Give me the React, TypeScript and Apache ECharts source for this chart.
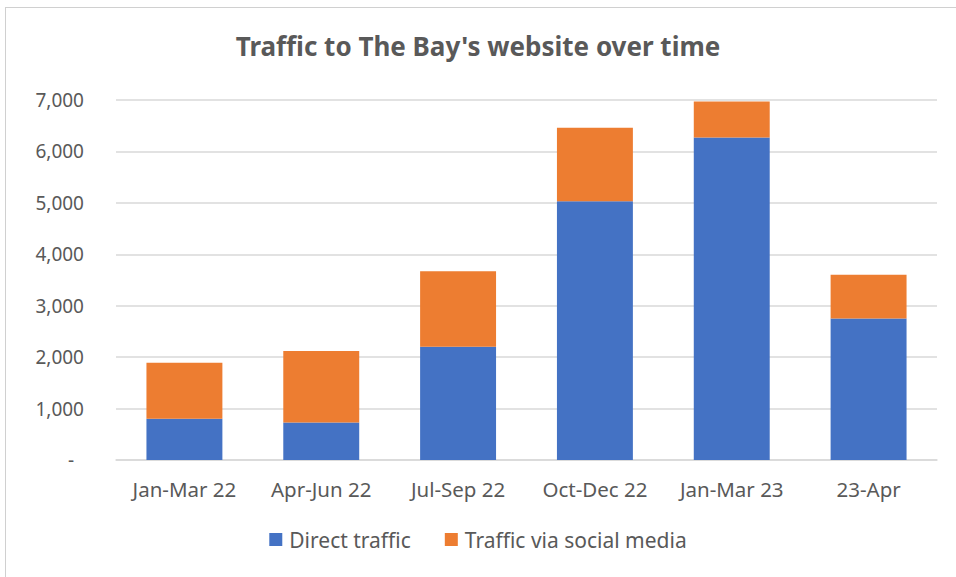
import React, { useEffect, useRef } from "react";
import * as echarts from "echarts";

const categories = ["Jan-Mar 22", "Apr-Jun 22", "Jul-Sep 22", "Oct-Dec 22", "Jan-Mar 23", "23-Apr"];
const directTraffic = [800, 730, 2200, 5030, 6270, 2750];
const socialTraffic = [1090, 1390, 1470, 1430, 700, 850];
const seriesNames = ["Direct traffic", "Traffic via social media"];
const titleText = "Traffic to The Bay's website over time";

const FONT = "'Noto Sans', 'Open Sans', sans-serif";
const TEXT = "#595959";

export default function App() {
  const ref = useRef<HTMLDivElement>(null);
  useEffect(() => {
    if (!ref.current) return;
    const chart = echarts.init(ref.current, null, { renderer: "svg" });
    chart.setOption({
      animation: false,
      backgroundColor: "#ffffff",
      title: {
        text: titleText,
        left: "center",
        top: 28,
        textStyle: { color: TEXT, fontFamily: FONT, fontSize: 26, fontWeight: "bold" },
      },
      graphic: [
        { type: "line", shape: { x1: 5, y1: 7.5, x2: 960, y2: 7.5 }, style: { stroke: "#d0d0d0", lineWidth: 1 } },
        { type: "line", shape: { x1: 5.5, y1: 7, x2: 5.5, y2: 580 }, style: { stroke: "#d0d0d0", lineWidth: 1 } },
      ],
      legend: {
        bottom: 22,
        left: "center",
        itemWidth: 13,
        itemHeight: 13,
        itemGap: 34,
        icon: "rect",
        textStyle: { color: TEXT, fontFamily: FONT, fontSize: 21, padding: [0, 0, 0, 2] },
        data: seriesNames,
      },
      grid: { left: 116, right: 19, top: 100, bottom: 117, containLabel: false },
      xAxis: {
        type: "category",
        data: categories,
        axisLine: { lineStyle: { color: "#d9d9d9", width: 1.5 } },
        axisTick: { show: false },
        axisLabel: { color: TEXT, fontFamily: FONT, fontSize: 20.5, margin: 18, interval: 0, hideOverlap: false },
      },
      yAxis: {
        type: "value",
        min: 0,
        max: 7000,
        interval: 1000,
        axisLine: { show: false },
        axisTick: { show: false },
        splitLine: { lineStyle: { color: "#d9d9d9", width: 1.5 } },
        axisLabel: {
          color: TEXT,
          fontFamily: FONT,
          fontSize: 19,
          margin: 32,
          formatter: (v: number) => (v === 0 ? "{z|-}" : v.toLocaleString("en-US")),
          rich: {
            z: { color: TEXT, fontFamily: FONT, fontSize: 19, padding: [0, 10, 0, 0] },
          },
        },
      },
      series: [
        {
          name: seriesNames[0],
          type: "bar",
          stack: "total",
          data: directTraffic,
          barWidth: "55.5%",
          itemStyle: { color: "#4472c4" },
        },
        {
          name: seriesNames[1],
          type: "bar",
          stack: "total",
          data: socialTraffic,
          barWidth: "55.5%",
          itemStyle: { color: "#ed7d31" },
        },
      ],
    });
    return () => chart.dispose();
  }, []);
  return <div ref={ref} style={{ position: "fixed", left: 0, top: 0, width: 956, height: 577 }} />;
}
